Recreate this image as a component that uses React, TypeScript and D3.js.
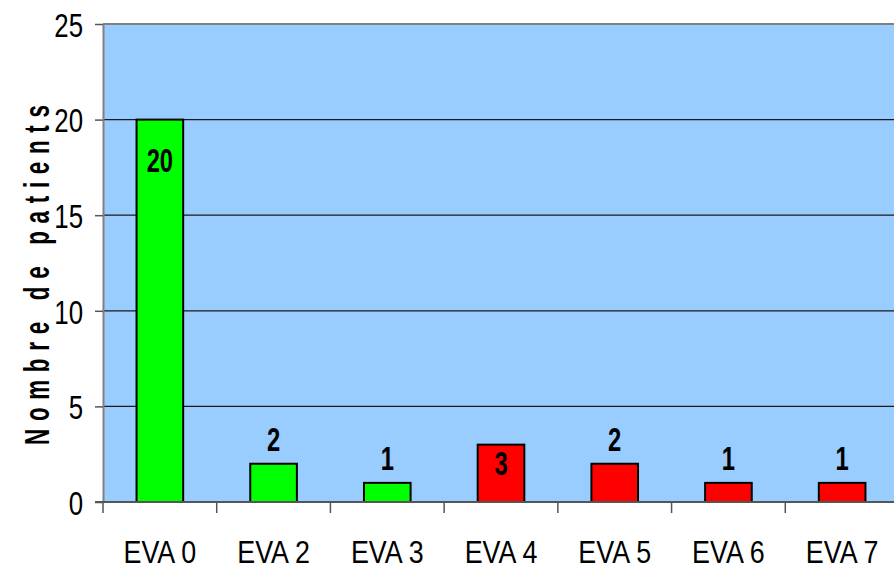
import * as d3 from "d3";
import { useEffect, useRef } from "react";

const categories = ["EVA 0", "EVA 2", "EVA 3", "EVA 4", "EVA 5", "EVA 6", "EVA 7"];
const patients = [20, 2, 1, 3, 2, 1, 1];
const painful = [false, false, false, true, true, true, true]; // rouge à partir de EVA 4
const labelInside = ["EVA 0", "EVA 4"];
const yTicks = [0, 5, 10, 15, 20, 25];
const yTitle = "Nombre de patients";

const W = 894;
const H = 571;

const App = () => {
  const ref = useRef<SVGSVGElement | null>(null);

  useEffect(() => {
    if (!ref.current) return;
    const svg = d3.select(ref.current);
    svg.selectAll("*").remove();

    const plot = { left: 103, right: 899, top: 24, bottom: 502 };
    const font = "'Liberation Sans', Arial, sans-serif";

    const x = d3.scaleBand().domain(categories).range([plot.left, plot.right]).paddingInner(0).paddingOuter(0);
    const y = d3.scaleLinear().domain([0, 25]).range([plot.bottom, plot.top]);
    const barW = x.bandwidth() * 0.41;

    // fond
    svg
      .append("rect")
      .attr("x", plot.left)
      .attr("y", plot.top)
      .attr("width", plot.right - plot.left)
      .attr("height", plot.bottom - plot.top)
      .attr("fill", "#99CCFF");

    // grille
    svg
      .append("g")
      .selectAll("line")
      .data(yTicks.filter((t) => t > 0 && t < 25))
      .join("line")
      .attr("x1", plot.left)
      .attr("x2", plot.right)
      .attr("y1", (d) => y(d))
      .attr("y2", (d) => y(d))
      .attr("stroke", "#1a1a1a")
      .attr("stroke-width", 1.2);

    // bordure haut
    svg
      .append("line")
      .attr("x1", plot.left)
      .attr("x2", plot.right)
      .attr("y1", plot.top)
      .attr("y2", plot.top)
      .attr("stroke", "#808080")
      .attr("stroke-width", 2);

    // barres
    const data = categories.map((c, i) => ({ c, v: patients[i], red: painful[i] }));
    svg
      .append("g")
      .selectAll("rect")
      .data(data)
      .join("rect")
      .attr("x", (d) => x(d.c)! + (x.bandwidth() - barW) / 2)
      .attr("y", (d) => y(d.v))
      .attr("width", barW)
      .attr("height", (d) => y(0) - y(d.v))
      .attr("fill", (d) => (d.red ? "#FF0000" : "#00FF00"))
      .attr("stroke", "#000")
      .attr("stroke-width", 2);

    // axe Y
    const yAxis = svg
      .append("g")
      .attr("transform", `translate(${plot.left},0)`)
      .call(d3.axisLeft(y).tickValues(yTicks).tickSize(8).tickSizeOuter(0).tickPadding(12).tickFormat(d3.format("d")));
    yAxis.select(".domain").attr("stroke", "#808080").attr("stroke-width", 2);
    yAxis.selectAll(".tick line").attr("stroke", "#555").attr("stroke-width", 1.5);
    yAxis
      .selectAll<SVGTextElement, number>(".tick text")
      .attr("font-family", font)
      .attr("font-size", 34)
      .attr("fill", "#000")
      .attr("x", 0)
      .attr("dy", "0.36em")
      .attr("transform", "translate(-20,0) scale(0.76,1)");

    // axe X
    const xAxis = svg
      .append("g")
      .attr("transform", `translate(0,${plot.bottom})`)
      .call(d3.axisBottom(x).tickSize(0).tickSizeOuter(0).tickPadding(0));
    xAxis.select(".domain").attr("stroke", "#555").attr("stroke-width", 2).attr("d", `M${plot.left - 8},0H${plot.right}`);
    xAxis.selectAll(".tick line").remove();
    xAxis
      .selectAll<SVGTextElement, string>(".tick text")
      .attr("font-family", font)
      .attr("font-size", 32)
      .attr("fill", "#000")
      .attr("y", 0)
      .attr("dy", 0)
      .attr("transform", "translate(0,61) scale(0.84,1)");

    // graduations entre catégories
    svg
      .append("g")
      .selectAll("line")
      .data(categories)
      .join("line")
      .attr("x1", (d) => x(d)!)
      .attr("x2", (d) => x(d)!)
      .attr("y1", plot.bottom)
      .attr("y2", plot.bottom + 11)
      .attr("stroke", "#555")
      .attr("stroke-width", 1.5);

    // étiquettes de valeurs
    svg
      .append("g")
      .selectAll("text")
      .data(data)
      .join("text")
      .attr("transform", (d) => {
        const cx = x(d.c)! + x.bandwidth() / 2;
        const top = y(d.v);
        const base = labelInside.includes(d.c) ? Math.min(top + 52, y(0) - 27) : top - 13;
        return `translate(${cx},${base}) scale(0.7,1)`;
      })
      .attr("text-anchor", "middle")
      .attr("font-family", font)
      .attr("font-weight", "bold")
      .attr("font-size", 34)
      .attr("fill", "#000")
      .text((d) => d.v);

    // titre Y
    svg
      .append("text")
      .attr("transform", `translate(49,${(plot.top + plot.bottom) / 2 + 12}) rotate(-90) scale(0.64,1)`)
      .attr("text-anchor", "middle")
      .attr("font-family", font)
      .attr("font-weight", "bold")
      .attr("font-size", 35)
      .attr("fill", "#000")
      .attr("textLength", 340 / 0.64)
      .attr("lengthAdjust", "spacing")
      .text(yTitle);
  }, []);

  return (
    <div style={{ position: "fixed", left: 0, top: 0, width: W, height: H, background: "#fff" }}>
      <svg ref={ref} width={W} height={H} />
    </div>
  );
};

export default App;
